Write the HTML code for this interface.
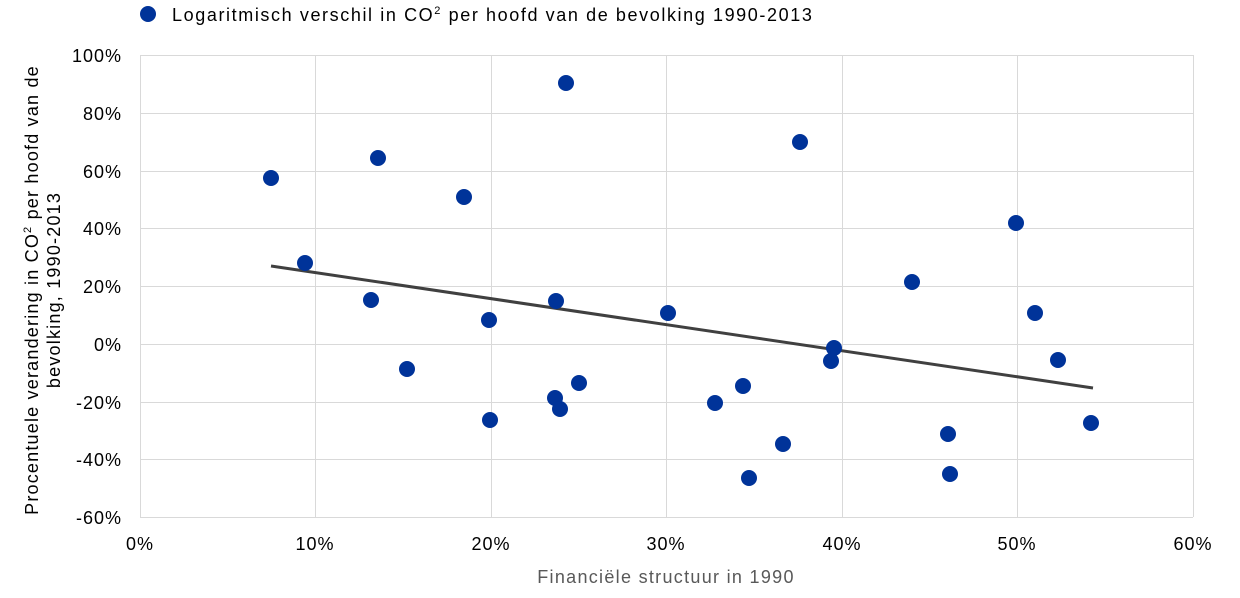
<!DOCTYPE html>
<html><head><meta charset="utf-8"><style>
body{margin:0;background:#fff;}
svg text{font-family:"Liberation Sans",Arial,sans-serif;}
</style></head><body>
<svg width="1240" height="593" viewBox="0 0 1240 593" xmlns="http://www.w3.org/2000/svg">
<g stroke="#d9d9d9" stroke-width="1">
<line x1="140" y1="55.5" x2="1193" y2="55.5"/>
<line x1="140" y1="113.5" x2="1193" y2="113.5"/>
<line x1="140" y1="171.5" x2="1193" y2="171.5"/>
<line x1="140" y1="228.5" x2="1193" y2="228.5"/>
<line x1="140" y1="286.5" x2="1193" y2="286.5"/>
<line x1="140" y1="344.5" x2="1193" y2="344.5"/>
<line x1="140" y1="402.5" x2="1193" y2="402.5"/>
<line x1="140" y1="459.5" x2="1193" y2="459.5"/>
<line x1="140" y1="517.5" x2="1193" y2="517.5"/>
<line x1="140.5" y1="55" x2="140.5" y2="517"/>
<line x1="315.5" y1="55" x2="315.5" y2="517"/>
<line x1="491.5" y1="55" x2="491.5" y2="517"/>
<line x1="666.5" y1="55" x2="666.5" y2="517"/>
<line x1="842.5" y1="55" x2="842.5" y2="517"/>
<line x1="1017.5" y1="55" x2="1017.5" y2="517"/>
<line x1="1193.5" y1="55" x2="1193.5" y2="517"/>
</g>
<g font-size="18" fill="#000" text-anchor="end" letter-spacing="1">
<text x="122" y="62">100%</text><text x="122" y="120">80%</text><text x="122" y="178">60%</text>
<text x="122" y="235">40%</text><text x="122" y="293">20%</text><text x="122" y="351">0%</text>
<text x="122" y="409">-20%</text><text x="122" y="466">-40%</text><text x="122" y="524">-60%</text>
</g>
<g font-size="18" fill="#000" text-anchor="middle" letter-spacing="1">
<text x="140" y="550">0%</text><text x="315" y="550">10%</text><text x="491" y="550">20%</text>
<text x="666" y="550">30%</text><text x="842" y="550">40%</text><text x="1017" y="550">50%</text><text x="1193" y="550">60%</text>
</g>
<text x="666" y="583" font-size="18" fill="#595959" text-anchor="middle" letter-spacing="1.3">Financiële structuur in 1990</text>
<g transform="translate(38,290) rotate(-90)" font-size="18" fill="#000" text-anchor="middle" letter-spacing="1.2">
<text x="0" y="0">Procentuele verandering in CO<tspan font-size="11" dy="-7">2</tspan><tspan dy="7"> per hoofd van de</tspan></text>
<text x="0" y="22">bevolking, 1990-2013</text>
</g>
<line x1="271" y1="266" x2="1093" y2="388" stroke="#404040" stroke-width="3"/>
<g fill="#003399">
<circle cx="271" cy="178" r="8"/><circle cx="305" cy="263" r="8"/><circle cx="378" cy="158" r="8"/>
<circle cx="371" cy="300" r="8"/><circle cx="407" cy="369" r="8"/><circle cx="464" cy="197" r="8"/>
<circle cx="489" cy="320" r="8"/><circle cx="490" cy="420" r="8"/><circle cx="566" cy="83" r="8"/>
<circle cx="556" cy="301" r="8"/><circle cx="555" cy="398" r="8"/><circle cx="560" cy="409" r="8"/>
<circle cx="579" cy="383" r="8"/><circle cx="668" cy="313" r="8"/><circle cx="715" cy="403" r="8"/>
<circle cx="743" cy="386" r="8"/><circle cx="749" cy="478" r="8"/><circle cx="783" cy="444" r="8"/>
<circle cx="800" cy="142" r="8"/><circle cx="834" cy="348" r="8"/><circle cx="831" cy="361" r="8"/>
<circle cx="912" cy="282" r="8"/><circle cx="948" cy="434" r="8"/><circle cx="950" cy="474" r="8"/>
<circle cx="1016" cy="223" r="8"/><circle cx="1035" cy="313" r="8"/><circle cx="1058" cy="360" r="8"/>
<circle cx="1091" cy="423" r="8"/>
<circle cx="148" cy="14" r="8"/>
</g>
<text x="172" y="21" font-size="18" fill="#000" letter-spacing="1.6">Logaritmisch verschil in CO<tspan font-size="11" dy="-7">2</tspan><tspan dy="7"> per hoofd van de bevolking 1990-2013</tspan></text>
</svg>
</body></html>
